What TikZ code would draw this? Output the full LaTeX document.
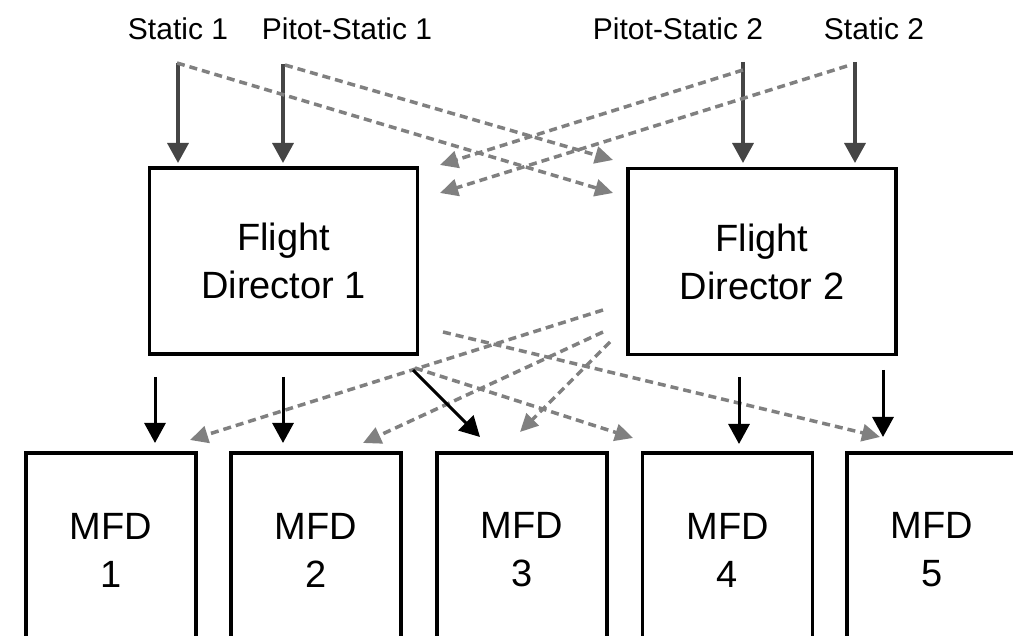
\documentclass[tikz,border=0pt]{standalone}
\usepackage{fontspec}
\setmainfont{Liberation Sans}
\usetikzlibrary{arrows.meta}

\begin{document}
\begin{tikzpicture}[x=1pt,y=-1pt,
  box/.style={draw=black, line width=3.2pt, inner sep=0pt},
  srclabel/.style={font=\fontsize{30}{36}\selectfont, anchor=base, inner sep=0pt},
  boxtext/.style={font=\fontsize{38}{48}\selectfont, align=center, inner sep=0pt},
  feed/.style={draw=black!73, line width=3.5pt, -{Triangle[length=20pt,width=21pt]}},
  outarrow/.style={draw=black, line width=3pt, -{Triangle[length=20pt,width=21pt]}},
  cross/.style={draw=black!50, line width=3.5pt, dash pattern=on 8pt off 5pt,
                -{Triangle[length=18pt,width=17pt]}},
]
\clip (0,0) rectangle (1013,636);
\fill[white] (0,0) rectangle (1013,636);

% air data sources
\node[srclabel] (st1) at (178,40) {Static 1};
\node[srclabel] (ps1) at (347,40) {Pitot-Static 1};
\node[srclabel] (ps2) at (678,40) {Pitot-Static 2};
\node[srclabel] (st2) at (874,40) {Static 2};

% flight directors
\node[box, boxtext, minimum width=268pt, minimum height=186pt] (fd1) at (283.5,261) {Flight\\Director 1};
\node[box, boxtext, minimum width=268pt, minimum height=186pt] (fd2) at (762,261.5) {Flight\\Director 2};

% multi-function displays
\foreach \i/\x in {1/111, 2/316, 3/522, 4/727.5, 5/932} {
  \node[box, minimum width=170pt, minimum height=300pt] (mfd\i) at (\x,603) {};
  \node[boxtext] (mfd\i t) at (\x,550) {MFD\\\i};
}

% connector end points
\coordinate (st1o) at (178,63);   \coordinate (st1i) at (178,163);
\coordinate (ps1o) at (283,64);   \coordinate (ps1i) at (283,163);
\coordinate (ps2o) at (743,62);   \coordinate (ps2i) at (743,163);
\coordinate (st2o) at (855,62);   \coordinate (st2i) at (855,163);
\coordinate (st1x) at (177,63);   \coordinate (fd2lo) at (613,193);
\coordinate (ps1x) at (285,65);   \coordinate (fd2hi) at (613,160);
\coordinate (ps2x) at (743,70);   \coordinate (fd1hi) at (440,165);
\coordinate (st2x) at (847,66);   \coordinate (fd1lo) at (440,193);

\coordinate (a1o) at (155,377);   \coordinate (a1i) at (155,443);
\coordinate (a2o) at (283,377);   \coordinate (a2i) at (283,443);
\coordinate (a3o) at (413,370);   \coordinate (a3i) at (480,437);
\coordinate (a4o) at (739,377);   \coordinate (a4i) at (739,444);
\coordinate (a5o) at (883,370);   \coordinate (a5i) at (883,437);

\coordinate (b1o) at (603,310);   \coordinate (b1i) at (190,440);
\coordinate (b2o) at (603,332);   \coordinate (b2i) at (363,443);
\coordinate (b3o) at (610,342);   \coordinate (b3i) at (520,432);
\coordinate (b5o) at (443,332);   \coordinate (b5i) at (880,437);
\coordinate (b4o) at (415,368);   \coordinate (b4i) at (633,438);

% primary air data feeds
\draw[feed] (st1o) -- (st1i);
\draw[feed] (ps1o) -- (ps1i);
\draw[feed] (ps2o) -- (ps2i);
\draw[feed] (st2o) -- (st2i);

% cross-side air data feeds
\draw[cross] (st1x) -- (fd2lo);
\draw[cross] (ps1x) -- (fd2hi);
\draw[cross] (ps2x) -- (fd1hi);
\draw[cross] (st2x) -- (fd1lo);

% cross-side display feeds
\draw[cross] (b1o) -- (b1i);
\draw[cross] (b2o) -- (b2i);
\draw[cross] (b3o) -- (b3i);
\draw[cross] (b4o) -- (b4i);
\draw[cross] (b5o) -- (b5i);

% primary display feeds
\draw[outarrow] (a1o) -- (a1i);
\draw[outarrow] (a2o) -- (a2i);
\draw[outarrow] (a3o) -- (a3i);
\draw[outarrow] (a4o) -- (a4i);
\draw[outarrow] (a5o) -- (a5i);
\end{tikzpicture}
\end{document}
